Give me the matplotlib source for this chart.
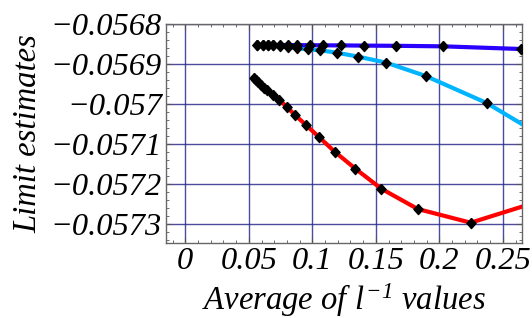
import numpy as np
import matplotlib
matplotlib.use("Agg")
from matplotlib import pyplot as plt
from matplotlib.ticker import MultipleLocator, FuncFormatter
from matplotlib.path import Path

# Values
dark_x = [0.0567, 0.0609, 0.0649, 0.0693, 0.0746, 0.0811, 0.0882, 0.0980,
          0.1087, 0.1226, 0.1409, 0.1657, 0.2029, 0.2643]
dark_y = [-0.0568525, -0.0568525, -0.0568525, -0.0568525, -0.0568525, -0.0568525,
          -0.0568528, -0.0568530, -0.0568533, -0.0568535, -0.0568540, -0.0568545,
          -0.0568558, -0.0568625]

light_x = [0.0567, 0.0609, 0.0649, 0.0693, 0.0746, 0.0811, 0.0882, 0.0963,
           0.1063, 0.1194, 0.1362, 0.1583, 0.1893, 0.2373, 0.3100]
light_y = [-0.0568525, -0.0568527, -0.0568530, -0.0568535, -0.0568545, -0.0568570,
           -0.0568608, -0.0568633, -0.0568658, -0.0568717, -0.0568817, -0.0568967,
           -0.0569300, -0.0569975, -0.0571357]

red_x = [0.0538, 0.0557, 0.0575, 0.0596, 0.0617, 0.0646, 0.0688, 0.0738, 0.0798,
         0.0866, 0.0953, 0.1055, 0.1176, 0.1339, 0.1543, 0.1830, 0.2247, 0.3100]
red_y = [-0.0569342, -0.0569400, -0.0569458, -0.0569525, -0.0569592, -0.0569650,
         -0.0569767, -0.0569892, -0.0570067, -0.0570283, -0.0570533, -0.0570833,
         -0.0571192, -0.0571617, -0.0572117, -0.0572625, -0.0572967, -0.0572120]

x_ticks = [0, 0.05, 0.1, 0.15, 0.2, 0.25]
y_ticks = [-0.0573, -0.0572, -0.0571, -0.057, -0.0569, -0.0568]

plt.rcParams['font.family'] = ['Liberation Serif', 'DejaVu Serif']
plt.rcParams['mathtext.fontset'] = 'custom'
plt.rcParams['mathtext.rm'] = 'Liberation Serif:italic'
plt.rcParams['mathtext.it'] = 'Liberation Serif:italic'

fig = plt.figure(figsize=(5.32, 3.18), dpi=100)
ax = fig.add_axes([0.312, 0.2358, 0.669, 0.6887])

# diamond a bit narrower than tall
diamond = Path([(0, 1), (0.9, 0), (0, -1), (-0.9, 0), (0, 1)])

series = [(light_x, light_y, "#00b4ff"), (dark_x, dark_y, "#2a00ff"), (red_x, red_y, "#ff0000")]
for xs, ys, col in series:
    ax.plot(xs, ys, color=col, lw=3, solid_capstyle='butt', zorder=3)
for xs, ys, col in series:
    ax.plot(xs, ys, ls='none', marker=diamond, ms=7.3, color='black', zorder=4)

ax.set_xlim(-0.0152, 0.265)
ax.set_ylim(-0.0573475, -0.0568)

ax.set_xticks(x_ticks)
ax.set_yticks(y_ticks)
ax.xaxis.set_minor_locator(MultipleLocator(0.01))
ax.yaxis.set_minor_locator(MultipleLocator(0.00002))

def fmt(v, pos):
    s = "%g" % round(v, 6)
    return s.replace("-", "\u2212")

ax.xaxis.set_major_formatter(FuncFormatter(fmt))
ax.yaxis.set_major_formatter(FuncFormatter(fmt))

ax.grid(True, which='major', color='#2c2c8c', lw=1.0, alpha=0.85, zorder=1)
ax.tick_params(which='both', direction='in', top=True, right=True, color='#555555')
ax.tick_params(which='major', length=4, width=0.8, labelsize=23.3, pad=3)
ax.tick_params(which='minor', length=2.5, width=0.6)
for lab in ax.get_xticklabels() + ax.get_yticklabels():
    lab.set_fontstyle('italic')
for sp in ax.spines.values():
    sp.set_color('#666666')
    sp.set_linewidth(1.0)

ax.set_xlabel(r"Average of $l^{-1}$ values", fontsize=23.5, fontstyle='italic', labelpad=4)
ax.set_ylabel("Limit estimates", fontsize=23.5, fontstyle='italic', labelpad=5)

fig.savefig("out.png", dpi=100)
